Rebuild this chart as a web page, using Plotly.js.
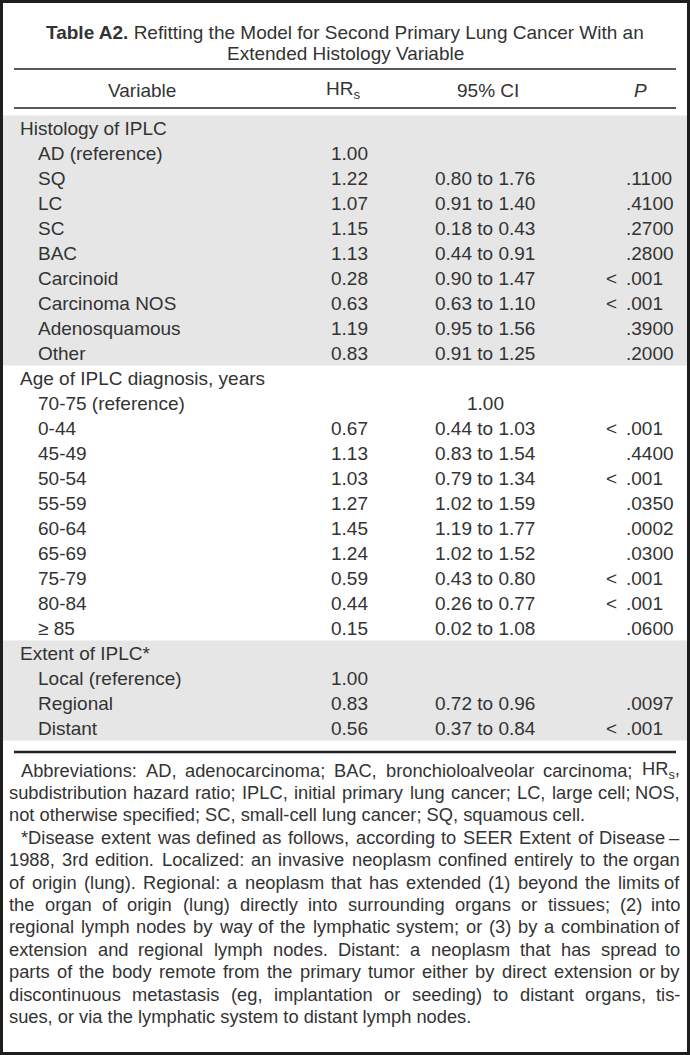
<!DOCTYPE html>
<html><head><meta charset="utf-8">
<script src="https://cdn.plot.ly/plotly-3.0.1.min.js"></script>
<style>html,body{margin:0;padding:0;background:#fff}#chart{width:690px;height:1055px}</style>
</head><body><div id="chart"></div>
<script>
// ---------- data ----------
const titleBold = "Table A2.";
const titleLine1 = "Refitting the Model for Second Primary Lung Cancer With an";
const titleLine2 = "Extended Histology Variable";
const headers = ["Variable", "HR<sub>s</sub>", "95% CI", "<i>P</i>"];

const groups = ["Histology of IPLC", "Age of IPLC diagnosis, years", "Extent of IPLC*"];

const histLabels = ["AD (reference)", "SQ", "LC", "SC", "BAC", "Carcinoid", "Carcinoma NOS", "Adenosquamous", "Other"];
const histHR = ["1.00", "1.22", "1.07", "1.15", "1.13", "0.28", "0.63", "1.19", "0.83"];
const histCI = ["", "0.80 to 1.76", "0.91 to 1.40", "0.18 to 0.43", "0.44 to 0.91", "0.90 to 1.47", "0.63 to 1.10", "0.95 to 1.56", "0.91 to 1.25"];
const histP = ["", ".1100", ".4100", ".2700", ".2800", "< .001", "< .001", ".3900", ".2000"];

const ageLabels = ["70-75 (reference)", "0-44", "45-49", "50-54", "55-59", "60-64", "65-69", "75-79", "80-84", "\u2265 85"];
const ageHR = ["", "0.67", "1.13", "1.03", "1.27", "1.45", "1.24", "0.59", "0.44", "0.15"];
const ageCI = ["1.00", "0.44 to 1.03", "0.83 to 1.54", "0.79 to 1.34", "1.02 to 1.59", "1.19 to 1.77", "1.02 to 1.52", "0.43 to 0.80", "0.26 to 0.77", "0.02 to 1.08"];
const ageP = ["", "< .001", ".4400", "< .001", ".0350", ".0002", ".0300", "< .001", "< .001", ".0600"];

const extLabels = ["Local (reference)", "Regional", "Distant"];
const extHR = ["1.00", "0.83", "0.56"];
const extCI = ["", "0.72 to 0.96", "0.37 to 0.84"];
const extP = ["", ".0097", "< .001"];

const footnoteParagraphs = [
  ["Abbreviations: AD, adenocarcinoma; BAC, bronchioloalveolar carcinoma; HR<sub>s</sub>,",
   "subdistribution hazard ratio; IPLC, initial primary lung cancer; LC, large cell; NOS,",
   "not otherwise specified; SC, small-cell lung cancer; SQ, squamous cell."],
  ["*Disease extent was defined as follows, according to SEER Extent of Disease \u2013",
   "1988, 3rd edition. Localized: an invasive neoplasm confined entirely to the organ",
   "of origin (lung). Regional: a neoplasm that has extended (1) beyond the limits of",
   "the organ of origin (lung) directly into surrounding organs or tissues; (2) into",
   "regional lymph nodes by way of the lymphatic system; or (3) by a combination of",
   "extension and regional lymph nodes. Distant: a neoplasm that has spread to",
   "parts of the body remote from the primary tumor either by direct extension or by",
   "discontinuous metastasis (eg, implantation or seeding) to distant organs, tis-",
   "sues, or via the lymphatic system to distant lymph nodes."]
];

// ---------- layout constants ----------
const W = 690, H = 1055;
const FONT = '"Liberation Sans", Arial, sans-serif';
const TXT = '#333333';
const tSize = 19, fSize = 18.3, titleSize = 19;
const rowTop = 128, rowStep = 25;
const xGroup = 19, xItem = 37, xHR = 369, xCI = 485, xPdec = 625, xPlt = 618;
const ruleL = 14, ruleR = 676;
const fnTop = 770, fnStep = 22.4, fnLeft = 8, fnIndent = 20, fnRight = 681;

const sections = [
  {g: groups[0], labels: histLabels, hr: histHR, ci: histCI, p: histP, shade: true},
  {g: groups[1], labels: ageLabels, hr: ageHR, ci: ageCI, p: ageP, shade: false},
  {g: groups[2], labels: extLabels, hr: extHR, ci: extCI, p: extP, shade: true}
];

const ann = [];
const shapes = [];
const font = (s) => ({family: FONT, size: s, color: TXT});
function addText(text, x, y, anchor, size) {
  ann.push({text: text, x: x, y: y, xref: 'x', yref: 'y', xanchor: anchor, yanchor: 'middle',
            showarrow: false, borderpad: 0, font: font(size || tSize)});
}

// title
addText('<b>' + titleBold + '</b> ' + titleLine1, W / 2, 32, 'center', titleSize);
addText(titleLine2, W / 2, 53, 'center', titleSize);
// header
const hX = [142, 343, 488, 640];
headers.forEach((h, i) => addText(h, hX[i], 90, 'center', tSize));

// rules
const rule = (y, w) => shapes.push({type: 'line', xref: 'x', yref: 'y', x0: ruleL, x1: ruleR, y0: y, y1: y,
                                     line: {color: '#222', width: w}});
rule(69, 1.5); rule(108, 1.5); rule(752, 2.5);

// rows
let r = 0;
sections.forEach(sec => {
  const start = r;
  addText(sec.g, xGroup, rowTop + r * rowStep, 'left');
  r++;
  sec.labels.forEach((lab, i) => {
    const y = rowTop + r * rowStep;
    addText(lab, xItem, y, 'left');
    if (sec.hr[i]) addText(sec.hr[i], xHR, y, 'right');
    if (sec.ci[i]) addText(sec.ci[i], xCI, y, 'center');
    const p = sec.p[i];
    if (p) {
      if (p.startsWith('<')) {
        addText('&lt;', xPlt, y, 'right');
        addText(p.replace('<', '').trim(), xPdec, y, 'left');
      } else addText(p, xPdec, y, 'left');
    }
    r++;
  });
  if (sec.shade) {
    shapes.push({type: 'rect', layer: 'below', xref: 'x', yref: 'y', x0: 3, x1: W - 3,
                 y0: rowTop + (start - 0.5) * rowStep, y1: rowTop + (r - 0.5) * rowStep,
                 fillcolor: '#e6e6e6', line: {width: 0}});
  }
});

// footnotes, justified
const cv = document.createElement('canvas').getContext('2d');
cv.font = fSize + 'px ' + FONT;
const plain = s => s.replace(/<sub>(.*?)<\/sub>/g, '$1');
let li = 0;
footnoteParagraphs.forEach(par => {
  par.forEach((line, k) => {
    const y = fnTop + li * fnStep;
    const x0 = k === 0 ? fnIndent : fnLeft;
    if (k === par.length - 1) {
      addText(line, x0, y, 'left', fSize);
    } else {
      const words = line.split(' ');
      const ws = words.map(w => cv.measureText(plain(w)).width);
      const total = ws.reduce((a, b) => a + b, 0);
      const gap = (fnRight - x0 - total) / (words.length - 1);
      let x = x0;
      words.forEach((w, j) => {
        if (j === words.length - 1) addText(w, fnRight, y, 'right', fSize);
        else addText(w, x, y, 'left', fSize);
        x += ws[j] + gap;
      });
    }
    li++;
  });
});

// frame
shapes.push({type: 'rect', xref: 'paper', yref: 'paper', x0: 0, x1: 1, y0: 0, y1: 1,
             line: {color: '#1e1e1e', width: 6}, fillcolor: 'rgba(0,0,0,0)'});

const layout = {
  width: W, height: H, margin: {l: 0, r: 0, t: 0, b: 0},
  paper_bgcolor: '#fff', plot_bgcolor: '#fff', showlegend: false,
  xaxis: {range: [0, W], visible: false, fixedrange: true},
  yaxis: {range: [H, 0], visible: false, fixedrange: true},
  annotations: ann, shapes: shapes
};
Plotly.newPlot('chart', [], layout, {displayModeBar: false, staticPlot: true});
</script>
</body></html>
